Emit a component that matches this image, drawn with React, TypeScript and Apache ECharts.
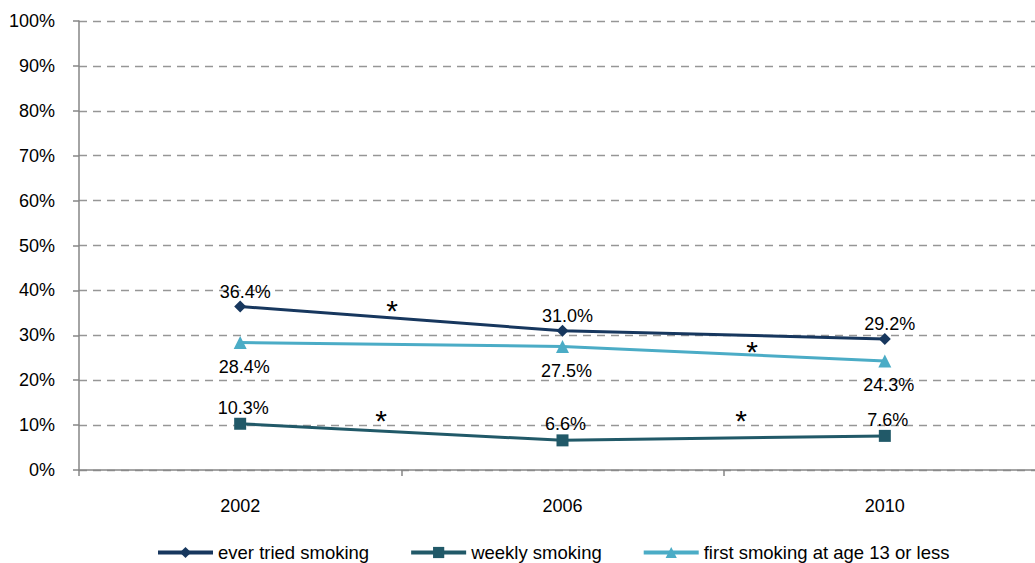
import React, { useEffect, useRef } from "react";
import * as echarts from "echarts";

const categories = ["2002", "2006", "2010"];
const everTried = [36.4, 31.0, 29.2];
const weekly = [10.3, 6.6, 7.6];
const firstAge13 = [28.4, 27.5, 24.3];
const seriesNames = ["ever tried smoking", "weekly smoking", "first smoking at age 13 or less"];
const asterisks = [
  { x: 392, y: 307 },
  { x: 381, y: 417 },
  { x: 752, y: 348 },
  { x: 741, y: 417 },
];

const FONT = "'Liberation Sans', Arial, sans-serif";

export default function App() {
  const ref = useRef<HTMLDivElement>(null);
  useEffect(() => {
    if (!ref.current) return;
    const chart = echarts.init(ref.current, undefined, { renderer: "svg" });
    const labelStyle = {
      show: true,
      fontFamily: FONT,
      fontSize: 18,
      color: "#000",
      formatter: (p: any) => p.value.toFixed(1) + "%",
    };
    chart.setOption({
      animation: false,
      backgroundColor: "#fff",
      textStyle: { fontFamily: FONT },
      grid: {
        left: 79,
        width: 967,
        top: 21,
        height: 449,
        containLabel: false,
        outerBoundsMode: "none",
      },
      legend: {
        left: 151,
        top: 538,
        itemWidth: 55,
        itemHeight: 14,
        itemGap: 40,
        lineStyle: { width: 4 },
        textStyle: { fontFamily: FONT, fontSize: 18.5, color: "#000" },
        data: seriesNames,
      },
      xAxis: {
        type: "category",
        data: categories,
        boundaryGap: true,
        axisLine: { lineStyle: { color: "#868686", width: 1.5 } },
        axisTick: { show: true, length: 6, lineStyle: { color: "#868686", width: 1.5 } },
        axisLabel: { fontFamily: FONT, fontSize: 18, color: "#000", margin: 27 },
      },
      yAxis: {
        type: "value",
        min: 0,
        max: 100,
        interval: 10,
        axisLine: { show: true, lineStyle: { color: "#868686", width: 1.5 } },
        axisTick: { show: true, length: 6, lineStyle: { color: "#868686", width: 1.5 } },
        axisLabel: { fontFamily: FONT, fontSize: 18, color: "#000", margin: 24, formatter: "{value}%" },
        splitLine: { show: true, lineStyle: { color: "#969696", type: [8, 6], width: 1.3 } },
      },
      series: [
        {
          name: seriesNames[0],
          type: "line",
          data: everTried,
          symbol: "diamond",
          symbolSize: 12,
          color: "#17375E",
          lineStyle: { width: 3, color: "#17375E" },
          itemStyle: { color: "#17375E" },
          label: { ...labelStyle, position: "top", distance: 0, offset: [5, 0] },
          z: 3,
        },
        {
          name: seriesNames[1],
          type: "line",
          data: weekly,
          symbol: "rect",
          symbolSize: 12,
          color: "#215968",
          lineStyle: { width: 3, color: "#215968" },
          itemStyle: { color: "#215968" },
          label: { ...labelStyle, position: "top", distance: 1, offset: [3, 0] },
          z: 3,
        },
        {
          name: seriesNames[2],
          type: "line",
          data: firstAge13,
          symbol: "triangle",
          symbolSize: 13,
          color: "#4BACC6",
          lineStyle: { width: 3, color: "#4BACC6" },
          itemStyle: { color: "#4BACC6" },
          label: { ...labelStyle, position: "bottom", distance: 9, offset: [4, 0] },
          z: 2,
        },
      ],
      graphic: asterisks.map((a) => ({
        type: "text",
        x: a.x,
        y: a.y + 3,
        style: {
          text: "*",
          fontFamily: FONT,
          fontSize: 30,
          fill: "#000",
          align: "center",
          verticalAlign: "middle",
        },
        z: 10,
      })),
    });
    return () => chart.dispose();
  }, []);
  return (
    <div
      ref={ref}
      style={{ position: "fixed", left: 0, top: 0, width: 1035, height: 563, background: "#fff" }}
    />
  );
}
